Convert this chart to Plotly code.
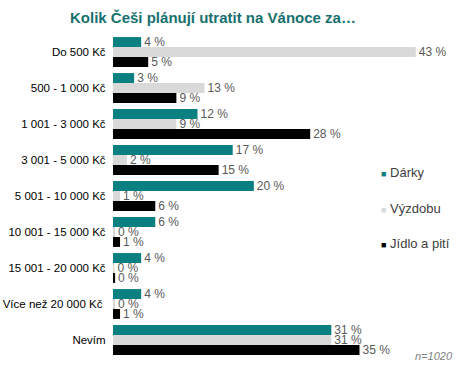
import plotly.graph_objects as go

categories = ["Do 500 Kč", "500 - 1 000 Kč", "1 001 - 3 000 Kč", "3 001 - 5 000 Kč",
              "5 001 - 10 000 Kč", "10 001 - 15 000 Kč", "15 001 - 20 000 Kč",
              "Více než 20 000 Kč ", "Nevím"]
darky = [4, 3, 12, 17, 20, 6, 4, 4, 31]
vyzdobu = [43, 13, 9, 2, 1, 0.3, 0.2, 0.3, 31]
jidlo = [5, 9, 28, 15, 6, 1, 0.3, 1, 35]
series_names = ["Dárky", "Výzdobu", "Jídlo a pití"]
colors = ["#0b8080", "#d9d9d9", "#000000"]

fig = go.Figure()
for name, vals, col in zip(series_names, [darky, vyzdobu, jidlo], colors):
    fig.add_trace(go.Bar(
        y=categories, x=vals, name=name, orientation="h",
        marker=dict(color=col, line=dict(width=0)),
        text=[f"{round(v)} %" for v in vals], textposition="outside",
        constraintext="none",
        textfont=dict(color="#595959", size=12, family="Liberation Sans, Arial"),
        cliponaxis=False, showlegend=False,
    ))

# legend drawn as annotations
legend_y = [0.571, 0.46, 0.352]
annotations = []
for name, col, ly in zip(series_names, colors, legend_y):
    annotations.append(dict(
        text=f"<span style='color:{col};font-size:9px'>■</span> {name}",
        xref="paper", yref="paper", x=0.804, y=ly, xanchor="left", yanchor="middle",
        showarrow=False, font=dict(size=13, color="#404040", family="Liberation Sans, Arial")))
annotations.append(dict(text="<i>n=1020</i>", xref="paper", yref="paper", x=1.033, y=0.006,
                        xanchor="right", yanchor="middle", showarrow=False,
                        font=dict(size=11, color="#7f7f7f", family="Liberation Sans, Arial")))

fig.update_layout(
    width=463, height=368,
    margin=dict(l=113, r=19, t=34, b=10),
    paper_bgcolor="white", plot_bgcolor="white",
    barmode="group", bargap=0.17, bargroupgap=0,
    font=dict(family="Liberation Sans, Arial", size=11, color="#000000"),
    title=dict(text="<b>Kolik Češi plánují utratit na Vánoce za…</b>",
               font=dict(size=15, color="#17706f", family="Liberation Sans, Arial"),
               xref="container", x=0.46, xanchor="center", y=0.951, yanchor="middle"),
    xaxis=dict(range=[0, 47], visible=False, fixedrange=True),
    yaxis=dict(autorange="reversed", showgrid=False, showline=False, ticks="",
               automargin=False, ticksuffix="  ", fixedrange=True,
               tickfont=dict(size=11.5, color="#000000")),
    showlegend=False,
    hovermode=False,
    annotations=annotations,
)

fig.write_html("out.html", config={"displayModeBar": False, "staticPlot": True},
               post_script="document.body.style.margin='0';")
